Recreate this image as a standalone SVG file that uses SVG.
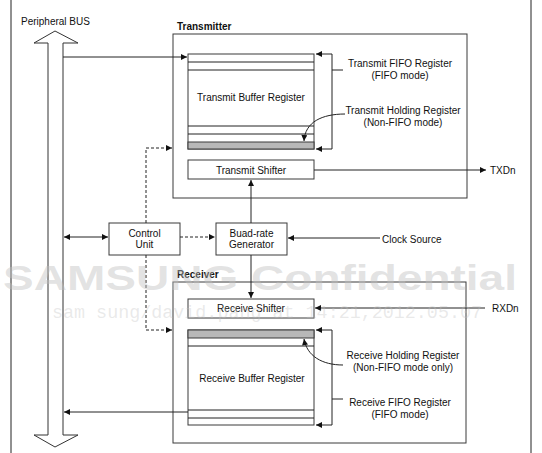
<svg xmlns="http://www.w3.org/2000/svg" width="542" height="453" viewBox="0 0 542 453">
<style>
text{font-family:"Liberation Sans",Arial,sans-serif;font-size:10px;fill:#111}
.c{text-anchor:middle}
.b{font-weight:bold}
.box{fill:#fff;stroke:#3a3a3a;stroke-width:1}
.ln{fill:none;stroke:#222;stroke-width:1}
.dl{fill:none;stroke:#222;stroke-width:1;stroke-dasharray:3,2}
text.wm{font-weight:bold;font-size:35px;fill:#c0c0c0;fill-opacity:0.45}
text.wm2{font-family:"Liberation Mono","Courier New",monospace;font-size:19px;fill:#c0c0c0;fill-opacity:0.35}
</style>
<defs>
<marker id="ah" viewBox="0 0 10 10" refX="10" refY="5" markerWidth="7" markerHeight="6" orient="auto-start-reverse" markerUnits="userSpaceOnUse">
<path d="M0,0 L10,5 L0,10 z" fill="#111"/>
</marker>
</defs>
<rect width="542" height="453" fill="#fff"/>
<g id="frame">
<line class="ln" x1="11" y1="0" x2="11" y2="453"/>
<line class="ln" x1="531" y1="0" x2="531" y2="453"/>
</g>
<g id="bus">
<text x="21" y="25">Peripheral BUS</text>
<polygon points="55,31 78,43 63,43 63,435 78,435 55,447 34,435 48,435 48,43 34,43" fill="#fff" stroke="#333" stroke-width="1"/>
</g>
<g id="transmitter">
<text class="b" x="177" y="30">Transmitter</text>
<rect class="box" x="173" y="34" width="294" height="164"/>
</g>
<g id="tx-buffer">
<rect class="box" x="188" y="54" width="126" height="95"/>
<rect x="188" y="142" width="126" height="7" fill="#b8b8b8" stroke="#3a3a3a"/>
<line class="ln" x1="188" y1="62" x2="314" y2="62"/>
<line class="ln" x1="188" y1="70" x2="314" y2="70"/>
<line class="ln" x1="188" y1="126" x2="314" y2="126"/>
<line class="ln" x1="188" y1="134" x2="314" y2="134"/>
<text class="c" x="251" y="101">Transmit Buffer Register</text>
</g>
<g id="tx-fifo-label">
<text class="c" x="400" y="67">Transmit FIFO Register</text>
<text class="c" x="400" y="79">(FIFO mode)</text>
</g>
<g id="tx-holding-label">
<text class="c" x="403" y="114">Transmit Holding Register</text>
<text class="c" x="403" y="126">(Non-FIFO mode)</text>
</g>
<g id="tx-shifter">
<rect class="box" x="188" y="160" width="126" height="19"/>
<text class="c" x="251" y="173.5">Transmit Shifter</text>
</g>
<g id="txdn"><text x="490" y="173.5">TXDn</text></g>
<g id="control-unit">
<rect class="box" x="109" y="223" width="71" height="32"/>
<text class="c" x="144.5" y="236.5">Control</text>
<text class="c" x="144.5" y="248">Unit</text>
</g>
<g id="baud-rate">
<rect class="box" x="216" y="223" width="71" height="32"/>
<text class="c" x="251.5" y="236.5">Buad-rate</text>
<text class="c" x="251.5" y="248">Generator</text>
</g>
<g id="clock-source"><text x="382" y="242.5">Clock Source</text></g>
<g id="receiver">
<text class="b" x="177" y="277.5">Receiver</text>
<rect class="box" x="173" y="282" width="293" height="161"/>
</g>
<g id="rx-shifter">
<rect class="box" x="188" y="299" width="126" height="19"/>
<text class="c" x="251" y="312">Receive Shifter</text>
</g>
<g id="rxdn"><text x="492" y="312">RXDn</text></g>
<g id="rx-buffer">
<rect class="box" x="188" y="330" width="126" height="95"/>
<rect x="188" y="330" width="126" height="8" fill="#b8b8b8" stroke="#3a3a3a"/>
<line class="ln" x1="188" y1="346" x2="314" y2="346"/>
<line class="ln" x1="188" y1="410" x2="314" y2="410"/>
<line class="ln" x1="188" y1="418" x2="314" y2="418"/>
<text class="c" x="252" y="381.5">Receive Buffer Register</text>
</g>
<g id="rx-holding-label">
<text class="c" x="403" y="358.5">Receive Holding Register</text>
<text class="c" x="403" y="370.5">(Non-FIFO mode only)</text>
</g>
<g id="rx-fifo-label">
<text class="c" x="400" y="405.5">Receive FIFO Register</text>
<text class="c" x="400" y="418">(FIFO mode)</text>
</g>
<g id="connectors">
<path class="ln" d="M63,57 H187" marker-end="url(#ah)"/>
<path class="ln" d="M316,54 H332 V149 H316" marker-start="url(#ah)" marker-end="url(#ah)"/>
<path class="ln" d="M332,70 H343"/>
<path class="ln" d="M345,114 C322,114 305,122 304,141" marker-end="url(#ah)"/>
<path class="ln" d="M251,223 V180" marker-end="url(#ah)"/>
<path class="ln" d="M314,170 H486" marker-end="url(#ah)"/>
<path class="ln" d="M64,237 H108" marker-start="url(#ah)" marker-end="url(#ah)"/>
<path class="dl" d="M180,237 H215" marker-end="url(#ah)"/>
<path class="ln" d="M380,238 H288" marker-end="url(#ah)"/>
<path class="dl" d="M146,223 V148 H172" marker-end="url(#ah)"/>
<path class="dl" d="M146,255 V330 H172" marker-end="url(#ah)"/>
<path class="ln" d="M251,255 V298" marker-end="url(#ah)"/>
<path class="ln" d="M485,308 H315" marker-end="url(#ah)"/>
<path class="ln" d="M316,330 H332 V425 H316" marker-start="url(#ah)" marker-end="url(#ah)"/>
<path class="ln" d="M332,399 H343"/>
<path class="ln" d="M343,365 C322,365 307,356 304,339" marker-end="url(#ah)"/>
<path class="ln" d="M188,412 H64" marker-end="url(#ah)"/>
</g>
<g id="watermark">
<text class="wm" x="3" y="290" textLength="514" lengthAdjust="spacingAndGlyphs">SAMSUNG Confidential</text>
<text class="wm2" x="52" y="318" textLength="430" lengthAdjust="spacingAndGlyphs">sam sung/david.pang at 14:21,2012.05.07</text>
</g>
</svg>
